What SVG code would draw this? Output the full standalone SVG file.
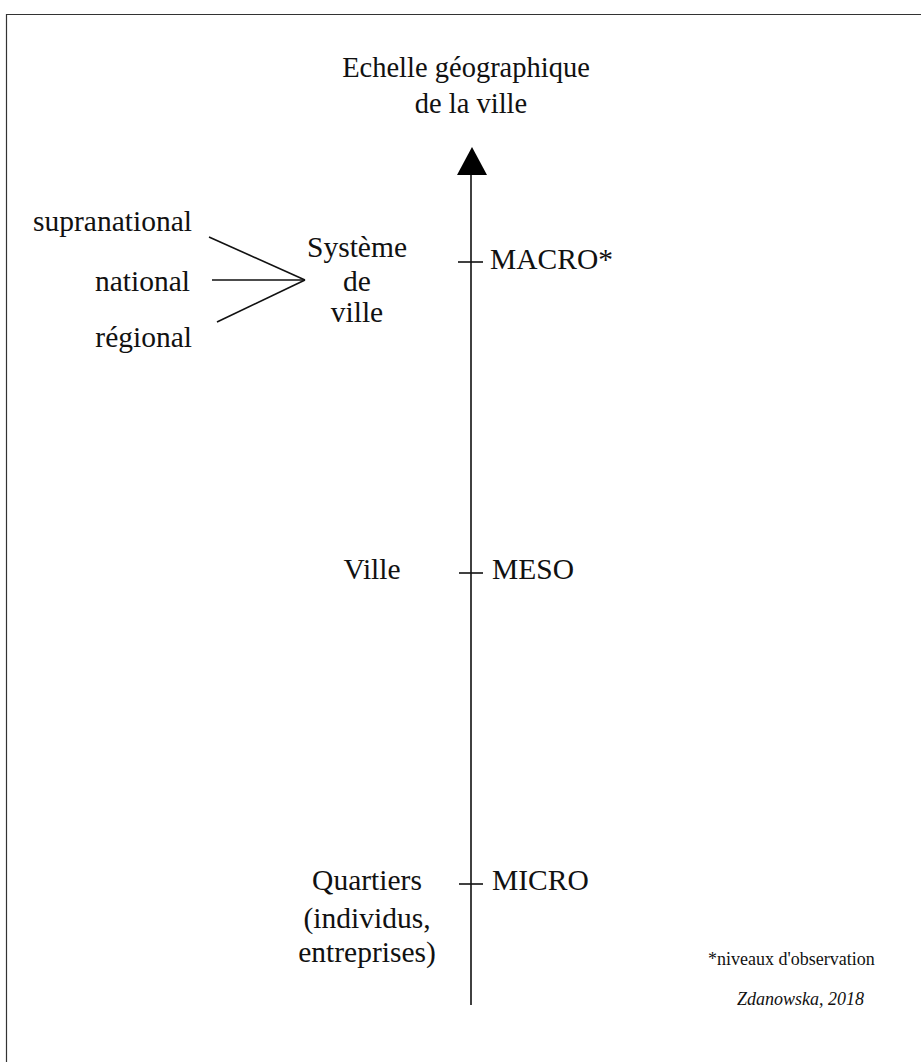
<svg xmlns="http://www.w3.org/2000/svg" width="921" height="1062" viewBox="0 0 921 1062">
<style>
text{font-family:'Liberation Serif','Times New Roman',serif;fill:#111}
.l{font-size:29.5px}
.tt{font-size:28.5px}
.s{font-size:18px}
.ln{stroke:#111;stroke-width:1.6;fill:none}
</style>
<rect x="0" y="0" width="921" height="1062" fill="#fff"/>
<path d="M6.5 1062 V14.5 H921" fill="none" stroke="#333" stroke-width="1.2"/>
<g id="title"><text class="tt" x="466" y="77" text-anchor="middle">Echelle géographique</text><text class="tt" x="471" y="113" text-anchor="middle">de la ville</text></g>
<g id="connectors">
<line class="ln" x1="471" y1="172" x2="471" y2="1005"/>
<polygon points="472,147 457,175 487,175" fill="#000"/>
<line class="ln" x1="458" y1="262" x2="483" y2="262"/>
<line class="ln" x1="459" y1="573" x2="483" y2="573"/>
<line class="ln" x1="459" y1="884" x2="483" y2="884"/>
<line class="ln" x1="209" y1="237" x2="305" y2="280"/>
<line class="ln" x1="212" y1="280" x2="305" y2="280"/>
<line class="ln" x1="217" y1="322" x2="305" y2="280"/>
</g>
<g id="macro"><text class="l" x="490" y="269">MACRO*</text></g>
<g id="meso"><text class="l" x="492" y="579">MESO</text></g>
<g id="micro"><text class="l" x="492" y="890">MICRO</text></g>
<g id="systeme"><text class="l" x="357" y="257" text-anchor="middle">Système</text><text class="l" x="357" y="291" text-anchor="middle">de</text><text class="l" x="357" y="322" text-anchor="middle">ville</text></g>
<g id="supranational"><text class="l" x="192" y="231" text-anchor="end">supranational</text></g>
<g id="national"><text class="l" x="190" y="291" text-anchor="end">national</text></g>
<g id="regional"><text class="l" x="192" y="347" text-anchor="end">régional</text></g>
<g id="ville"><text class="l" x="372" y="579" text-anchor="middle">Ville</text></g>
<g id="quartiers"><text class="l" x="367" y="890" text-anchor="middle">Quartiers</text><text class="l" x="367" y="928" text-anchor="middle">(individus,</text><text class="l" x="367" y="962" text-anchor="middle">entreprises)</text></g>
<g id="note"><text class="s" x="708" y="965">*niveaux d'observation</text></g>
<g id="credit"><text class="s" x="737" y="1005" font-style="italic">Zdanowska, 2018</text></g>
</svg>
